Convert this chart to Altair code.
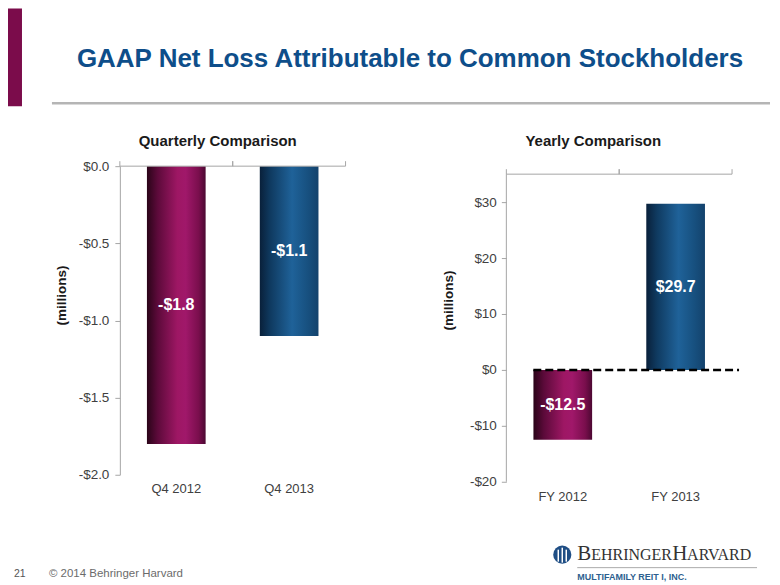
import altair as alt
import pandas as pd

# ---------------- data ----------------
q_cats = ["Q4 2012", "Q4 2013"]
q_vals = [-1.8, -1.1]
q_ticks = [0.0, -0.5, -1.0, -1.5, -2.0]

y_cats = ["FY 2012", "FY 2013"]
y_vals = [-12.5, 29.7]
y_ticks = [30, 20, 10, 0, -10, -20]

slide_title = "GAAP Net Loss Attributable to Common Stockholders"
q_title = "Quarterly Comparison"
y_title = "Yearly Comparison"
footer_page = "21"
footer_copy = "\u00a9 2014 Behringer Harvard"


def money(v):
    return ("-$" if v < 0 else "$") + f"{abs(v):.1f}"


q_df = pd.DataFrame({"cat": q_cats, "value": q_vals,
                     "label": [money(v) for v in q_vals],
                     "mid": [v / 2 for v in q_vals]})
y_df = pd.DataFrame({"cat": y_cats, "value": y_vals,
                     "label": [money(v) for v in y_vals],
                     "mid": [v / 2 for v in y_vals]})

one = pd.DataFrame({"k": [0]})

FONT = "Liberation Sans"
AXIS_GRAY = "#a6a6a6"
LABEL_GRAY = "#404040"

MAROON = alt.Gradient(
    gradient="linear", x1=0, x2=1, y1=0, y2=0,
    stops=[alt.GradientStop(offset=0.0, color="#2a0418"),
           alt.GradientStop(offset=0.18, color="#5c0a3a"),
           alt.GradientStop(offset=0.52, color="#9e1764"),
           alt.GradientStop(offset=0.66, color="#a0186a"),
           alt.GradientStop(offset=0.88, color="#7a0e4d"),
           alt.GradientStop(offset=1.0, color="#4c0832")])
BLUE = alt.Gradient(
    gradient="linear", x1=0, x2=1, y1=0, y2=0,
    stops=[alt.GradientStop(offset=0.0, color="#09203a"),
           alt.GradientStop(offset=0.18, color="#0f3a60"),
           alt.GradientStop(offset=0.55, color="#1f6299"),
           alt.GradientStop(offset=0.82, color="#17507f"),
           alt.GradientStop(offset=1.0, color="#13426c")])


def txt(text, x, y, **kw):
    return alt.Chart(one).mark_text(**kw).encode(
        x=alt.value(x), y=alt.value(y), text=alt.value(text))


def rect(x, x2, y, y2, color):
    return alt.Chart(one).mark_rect(color=color).encode(
        x=alt.value(x), x2=alt.value(x2), y=alt.value(y), y2=alt.value(y2))


def rule(x, x2, y, y2, color, width=1, **kw):
    return alt.Chart(one).mark_rule(color=color, strokeWidth=width, **kw).encode(
        x=alt.value(x), x2=alt.value(x2), y=alt.value(y), y2=alt.value(y2))


def make_axes(ticks, fmt, label_pad, y_label_pad, title_y, axis_domain):
    x_axis = alt.Axis(orient="bottom", domain=False, ticks=False,
                      labelAngle=0, labelPadding=label_pad,
                      labelFontSize=13, labelColor=LABEL_GRAY,
                      labelFont=FONT, title=None)
    y_axis = alt.Axis(values=ticks, grid=False, orient="left",
                      labelExpr="(datum.value < 0 ? '-$' : '$') + format(abs(datum.value), '" + fmt + "')",
                      labelFontSize=13.5, labelColor=LABEL_GRAY, labelFont=FONT,
                      labelPadding=y_label_pad, tickSize=5, tickColor=AXIS_GRAY,
                      domain=axis_domain, domainColor=AXIS_GRAY,
                      title="(millions)", titleFont=FONT, titleFontSize=13.5,
                      titleFontWeight="bold", titleColor="#1a1a1a",
                      titleX=-58, titleY=title_y, titleAngle=270,
                      titleAlign="center", titleBaseline="middle")
    return x_axis, y_axis


def panel(df, cats, domain, x_axis, y_axis):
    xscale = alt.Scale(paddingInner=0, paddingOuter=0)
    yscale = alt.Scale(domain=domain, nice=False, zero=False)

    def X(**kw):
        return alt.X("cat:N", sort=cats, scale=xscale, axis=x_axis, **kw)

    def Y(field="value"):
        return alt.Y(field + ":Q", scale=yscale, axis=y_axis)

    base = alt.Chart(df)
    bar1 = base.transform_filter(alt.datum.cat == cats[0]).mark_bar(
        color=MAROON, width=alt.RelativeBandSize(0.52)).encode(x=X(), y=Y())
    bar2 = base.transform_filter(alt.datum.cat == cats[1]).mark_bar(
        color=BLUE, width=alt.RelativeBandSize(0.52)).encode(x=X(), y=Y())
    labels = base.mark_text(color="white", fontWeight="bold", fontSize=16,
                            font=FONT, baseline="middle").encode(
        x=X(), y=Y("mid"), text="label:N")
    return base, X, yscale, bar1, bar2, labels


# ---------------- left panel (quarterly) ----------------
LW, LH = 226, 309
qx_axis, qy_axis = make_axes(q_ticks, ".1f", 8, 6, 129, True)
qb, qX, q_yscale, q1, q2, qlab = panel(q_df, q_cats, [-2.0, 0.0], qx_axis, qy_axis)
q_top = rule(0, LW, 0, 0, AXIS_GRAY, 1)
q_tk_a = qb.mark_rule(color=AXIS_GRAY).encode(x=qX(bandPosition=0), y=alt.value(-5), y2=alt.value(0))
q_tk_b = qb.mark_rule(color=AXIS_GRAY).encode(x=qX(bandPosition=1), y=alt.value(-5), y2=alt.value(0))

# slide decorations (relative to left plot origin)
deco = [
    rect(-112, -98, -158, -60, "#7b0c4b"),
    rule(-68, 651, -63, -63, "#b5b5b5", 2.5),
    txt(slide_title, -43, -107, fontSize=26, fontWeight="bold", color="#0e4e8a",
        align="left", baseline="middle", font=FONT),
    txt(q_title, 98, -25, fontSize=15, fontWeight="bold", color="#1a1a1a",
        align="center", baseline="middle", font=FONT),
    txt(footer_page, -106, 408, fontSize=10.5, color="#555555", align="left",
        baseline="middle", font=FONT),
    txt(footer_copy, -71, 408, fontSize=11.5, color="#6b6b6b", align="left",
        baseline="middle", font=FONT),
]

left = alt.layer(q1, q2, qlab, q_top, q_tk_a, q_tk_b, *deco).properties(width=LW, height=LH)

# ---------------- right panel (yearly) ----------------
RW, RH = 226, 316
yx_axis, yy_axis = make_axes(y_ticks, "d", 9, 5, 134, False)
yb, yX, y_yscale, y1, y2, ylab = panel(y_df, y_cats, [-20.0, 36.43], yx_axis, yy_axis)


def YD(v):
    return alt.YDatum(v, scale=y_yscale, axis=yy_axis, type="quantitative")


def Y2D(v):
    return alt.Y2Datum(v)


y_axisline = alt.Chart(one).mark_rule(color=AXIS_GRAY).encode(
    x=alt.value(0), y=YD(35), y2=Y2D(-20))
y_top = alt.Chart(one).mark_rule(color=AXIS_GRAY).encode(
    x=alt.value(0), x2=alt.value(RW), y=YD(35))
y_tk_a = yb.mark_rule(color=AXIS_GRAY, y2Offset=-5).encode(
    x=yX(bandPosition=0), y=YD(35), y2=Y2D(35))
y_tk_b = yb.mark_rule(color=AXIS_GRAY, y2Offset=-5).encode(
    x=yX(bandPosition=1), y=YD(35), y2=Y2D(35))
zero_line = alt.Chart(one).mark_rule(color="black", strokeWidth=2.5, strokeDash=[8, 4]).encode(
    x=alt.value(27), x2=alt.value(233), y=YD(0))

logo = [
    txt(y_title, 87, -25, fontSize=15, fontWeight="bold", color="#1a1a1a",
        align="center", baseline="middle", font=FONT),
    alt.Chart(one).mark_circle(size=330, color="#1f4e85", opacity=1).encode(
        x=alt.value(56), y=alt.value(389)),
    rule(52, 52, 384, 396, "white", 1.5),
    rule(56, 56, 382, 397, "white", 1.5),
    rule(60, 60, 384, 396, "white", 1.5),
    txt("B", 71, 394, fontSize=21, color="#333333", align="left",
        baseline="alphabetic", font="Liberation Serif"),
    txt("EHRINGER", 85, 394, fontSize=16, color="#333333", align="left",
        baseline="alphabetic", font="Liberation Serif"),
    txt("H", 166, 394, fontSize=21, color="#333333", align="left",
        baseline="alphabetic", font="Liberation Serif"),
    txt("ARVARD", 181, 394, fontSize=16, color="#333333", align="left",
        baseline="alphabetic", font="Liberation Serif"),
    rule(71, 251, 402, 402, "#aaaaaa", 1),
    txt("MULTIFAMILY REIT I, INC.", 71, 411, fontSize=9, fontWeight="bold",
        color="#2d5f8f", align="left", baseline="middle", font=FONT),
]

right = alt.layer(y1, y2, ylab, y_axisline, y_top, y_tk_a, y_tk_b, zero_line, *logo).properties(
    width=RW, height=RH)

chart = alt.hconcat(left, right, spacing=161, bounds="flush", padding=0).configure(
    font=FONT, background="white", view=alt.ViewConfig(stroke=None))

chart.save("out.html", embed_options={"renderer": "svg", "actions": False})
